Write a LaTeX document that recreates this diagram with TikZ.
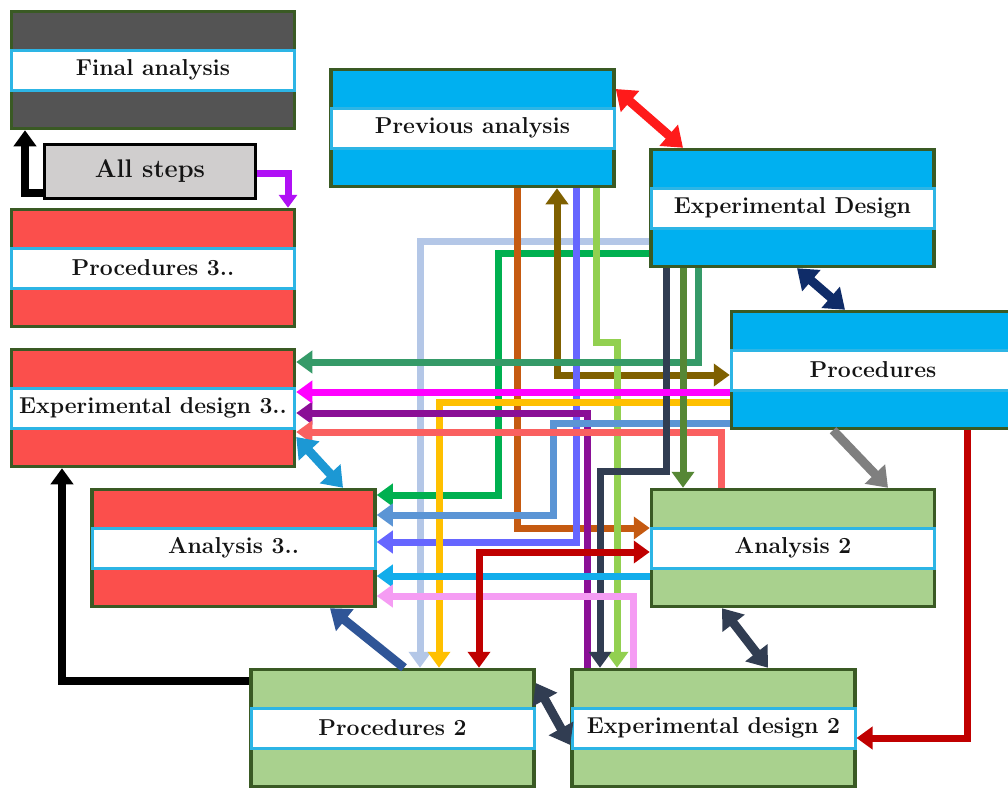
\documentclass[tikz,border=0pt]{standalone}
\usetikzlibrary{arrows.meta}
\definecolor{bordc}{HTML}{3A5A24}
\definecolor{bandc}{HTML}{2DB5E5}
\definecolor{txtc}{HTML}{141414}
\definecolor{blueF}{HTML}{00B0F0}
\definecolor{redF}{HTML}{FB4F4C}
\definecolor{greenF}{HTML}{A9D18E}
\definecolor{darkF}{HTML}{545454}
\definecolor{grayF}{HTML}{D0CECE}
% connector colours
\definecolor{cSteelLt}{HTML}{B4C7E7}
\definecolor{cGreen}{HTML}{00B050}
\definecolor{cBrown}{HTML}{C55A11}
\definecolor{cOlvBrn}{HTML}{7F6000}
\definecolor{cViolet}{HTML}{6666FF}
\definecolor{cLtGreen}{HTML}{92D050}
\definecolor{cSea}{HTML}{359A68}
\definecolor{cMagenta}{HTML}{FF00FF}
\definecolor{cGold}{HTML}{FFC000}
\definecolor{cPurple}{HTML}{8A0F96}
\definecolor{cSteel}{HTML}{5B95D5}
\definecolor{cSalmon}{HTML}{FA6060}
\definecolor{cSlate}{HTML}{313D52}
\definecolor{cOlvGrn}{HTML}{568735}
\definecolor{cCyan}{HTML}{12ADEB}
\definecolor{cPink}{HTML}{F59CF3}
\definecolor{cDkRed}{HTML}{C00000}
\definecolor{cGray}{HTML}{7F7F7F}
\definecolor{cNavy}{HTML}{0F2C68}
\definecolor{cRed}{HTML}{FF1A1A}
\definecolor{cDBlue}{HTML}{2F5597}
\definecolor{cBlueDbl}{HTML}{1C98D4}
\definecolor{cViolet2}{HTML}{B010F5}
\tikzset{
  box/.style={draw=bordc, line width=3.5pt, inner sep=0pt,
    minimum width=283pt, minimum height=117pt},
  band/.style={draw=bandc, line width=3pt, fill=white, inner sep=0pt,
    minimum width=283pt, minimum height=40pt, text=txtc,
    font=\fontsize{23}{26}\selectfont\bfseries},
  tipS/.tip={Triangle[length=16pt,width=22pt]},
  tipB/.tip={Triangle[length=19pt,width=27pt]},
  cn/.style={line width=7pt, -tipS},
  cdd/.style={line width=7pt, tipS-tipS},
  diag/.style={line width=9pt, -tipB},
  diagd/.style={line width=9pt, tipB-tipB},
}
\newcommand\stagebox[5]{%
  \node[box, fill=#4] (#1) at (#2,#3) {};
  \node[band] (#1t) at (#1) {#5};}
\begin{document}
\begin{tikzpicture}[x=1pt, y=-1pt]
\useasboundingbox (0,0) rectangle (1008,787);
\clip (0,0) rectangle (1008,787);
\fill[white] (0,0) rectangle (1008,787);

% stages
\stagebox{fin}{153}{70}{darkF}{Final analysis}
\stagebox{p3}{153}{268}{redF}{Procedures 3..}
\stagebox{e3}{153}{408}{redF}{Experimental design 3..}
\stagebox{a3}{233.5}{548}{redF}{Analysis 3..}
\stagebox{prev}{472.5}{128}{blueF}{Previous analysis}
\stagebox{ed1}{792.5}{208}{blueF}{Experimental Design}
\stagebox{pr1}{873}{370}{blueF}{Procedures}
\stagebox{an2}{793}{548}{greenF}{Analysis 2}
\stagebox{pr2}{392.5}{728}{greenF}{Procedures 2}
\stagebox{ed2}{713.5}{728}{greenF}{Experimental design 2}
\node[draw=black, line width=3.5pt, fill=grayF, inner sep=0pt,
  minimum width=211pt, minimum height=54pt, text=txtc,
  font=\fontsize{25.5}{28}\selectfont\bfseries] (all) at (150,171.5) {All steps};

% links of the summary box
\draw[cn, black, line width=8pt] (all.west |- 0,193) -| (fin.south -| 25,0);
\draw[cn, cViolet2, -{Triangle[length=13pt,width=18pt]}] (all.east |- 0,173) -| (p3.north -| 288,0);
\draw[cn, black, line width=8pt] (pr2.west |- 0,681) -| (e3.south -| 62,0);
\draw[cn, cDkRed] (pr1.south -| 967,0) |- (ed2t.east |- 0,738);

% routed connectors
\draw[cn, cSteelLt] (ed1.west |- 0,241) -| (pr2.north -| 420,0);
\draw[cn, cGreen] (ed1.west |- 0,253) -| (498,495) -- (a3.east |- 0,495);
\draw[cn, cBrown] (prev.south -| 517,0) |- (an2.west |- 0,528);
\draw[cdd, cOlvBrn] (prev.south -| 557,0) |- (pr1.west |- 0,375);
\draw[cn, cViolet] (prev.south -| 576,0) |- (a3.east |- 0,542);
\draw[cn, cLtGreen] (prev.south -| 596,0) -- (596,342) -| (ed2.north -| 617,0);
\draw[cn, cSea] (ed1.south -| 698,0) |- (e3.east |- 0,362);
\draw[cn, cGold] (pr1.west |- 0,402) -| (pr2.north -| 439,0);
\draw[cn, cPurple] (ed2.north -| 587,0) |- (e3.east |- 0,413);
\draw[cn, cSteel] (pr1.west |- 0,423) -| (553,515) -- (a3.east |- 0,515);
\draw[cn, cSalmon] (an2.north -| 721,0) |- (e3.east |- 0,432);
\draw[cn, cSlate] (ed1.south -| 666,0) -- (666,471) -| (ed2.north -| 600,0);
\draw[cn, cOlvGrn] (ed1.south -| 683,0) -- (an2.north -| 683,0);
\draw[cn, cCyan] (an2.west |- 0,576) -- (a3.east |- 0,576);
\draw[cn, cPink] (ed2.north -| 633,0) |- (a3.east |- 0,596);
\draw[cdd, cDkRed] (pr2.north -| 479,0) |- (an2.west |- 0,552);
\draw[cn, cMagenta] (pr1.west |- 0,392) -- (e3.east |- 0,392);

% diagonal links
\draw[diagd, cRed] (prev.east |- 0,89) -- (ed1.north -| 683,0);
\draw[diagd, cNavy] (ed1.south -| 797,0) -- (pr1.north -| 845,0);
\draw[diag, cGray] (pr1.south -| 833,0) -- (an2.north -| 888,0);
\draw[diagd, cSlate] (an2.south -| 722,0) -- (ed2.north -| 768,0);
\draw[diagd, cSlate] (pr2.east |- 0,683) -- (ed2.west |- 0,745);
\draw[diag, cDBlue] (pr2.north -| 404,0) -- (a3.south -| 330,0);
\draw[diagd, cBlueDbl] (e3.east |- 0,437) -- (a3.north -| 343,0);
\end{tikzpicture}
\end{document}
